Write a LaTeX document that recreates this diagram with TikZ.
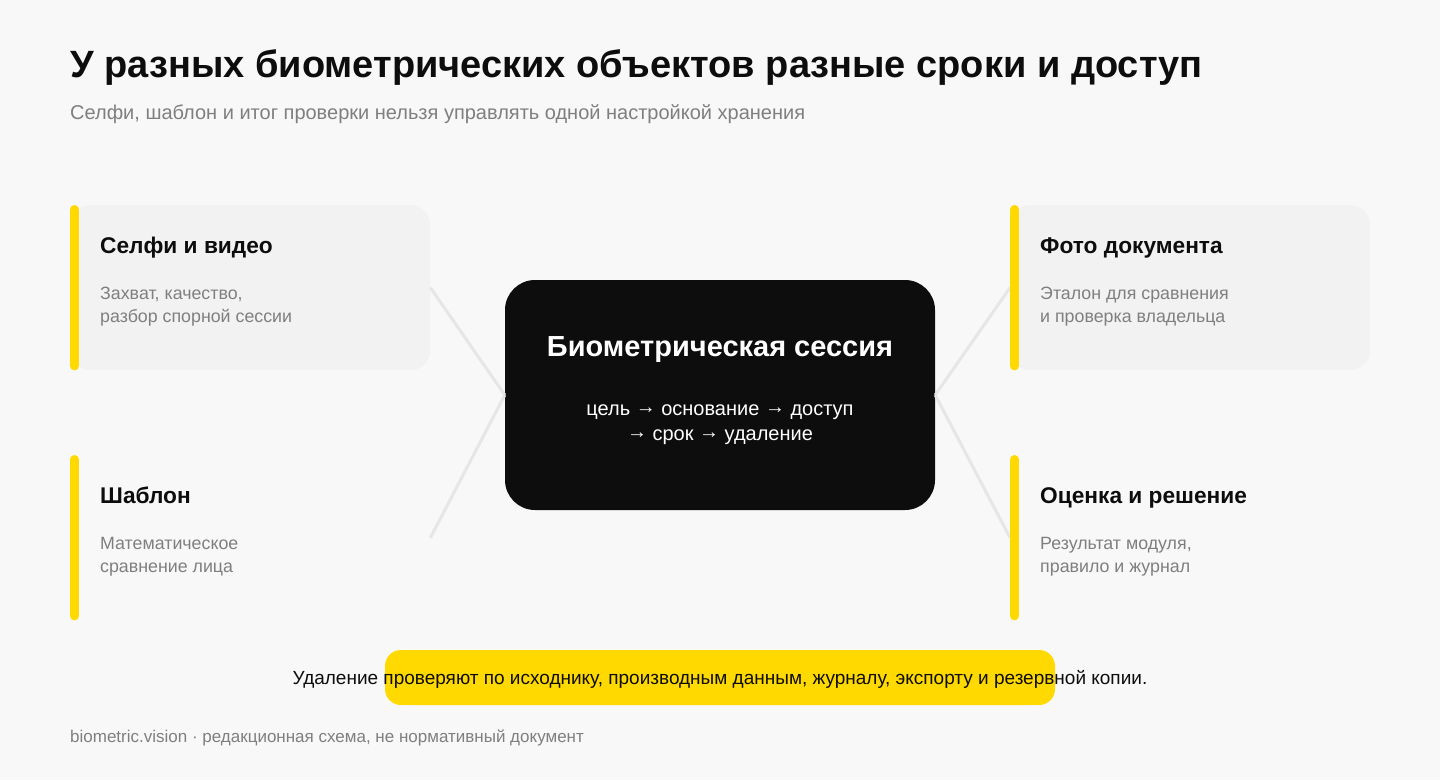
\documentclass[tikz,border=0pt]{standalone}
\usepackage{fontspec}
\setmainfont{Liberation Sans}
\usetikzlibrary{positioning}
\definecolor{pagebg}{HTML}{F8F8F8}
\definecolor{cardbg}{HTML}{F2F2F2}
\definecolor{accent}{HTML}{FFD900}
\definecolor{ink}{HTML}{0D0D0D}
\definecolor{muted}{HTML}{7F7F7F}
\definecolor{linkgray}{HTML}{E6E6E6}
\newcommand\flowto{\raisebox{2.5pt}{→}}

\begin{document}
\begin{tikzpicture}[x=1pt,y=-1pt,
    card/.style={anchor=north west,minimum width=360pt,minimum height=165pt,inner sep=0pt,rounded corners=20pt},
    filledcard/.style={card,fill=cardbg},
    session/.style={fill=ink,rounded corners=30pt,minimum width=430pt,minimum height=230pt,inner sep=0pt},
    note/.style={fill=accent,rounded corners=16pt,minimum width=670pt,minimum height=55pt,inner sep=0pt},
    bar/.style={accent,line width=9pt,line cap=round},
    link/.style={linkgray,line width=3pt},
    cardtitle/.style={anchor=base west,inner sep=0pt,text=ink,font=\fontsize{22.7pt}{27pt}\selectfont\bfseries},
    carddesc/.style={anchor=base west,inner sep=0pt,align=left,text=muted,font=\fontsize{17.8pt}{23.4pt}\selectfont},
  ]
  \useasboundingbox[fill=pagebg] (0,0) rectangle (1440,780);

  % heading
  \node[anchor=base west,inner sep=0pt,text=ink,font=\fontsize{38pt}{45pt}\selectfont\bfseries] (title) at (70,77)
    {У разных биометрических объектов разные сроки и доступ};
  \node[anchor=base west,inner sep=0pt,text=muted,font=\fontsize{20pt}{24pt}\selectfont] (subtitle) at (70,119.5)
    {Селфи, шаблон и итог проверки нельзя управлять одной настройкой хранения};

  % cards
  \node[filledcard] (selfie) at (70,205) {};
  \node[card] (template) at (70,455) {};
  \node[filledcard] (photo) at (1010,205) {};
  \node[card] (score) at (1010,455) {};
  \node[session] (session) at (720,395) {};

  % links to the centre
  \draw[link] (selfie.east) -- (session.west);
  \draw[link] (template.east) -- (session.west);
  \draw[link] (photo.west) -- (session.east);
  \draw[link] (score.west) -- (session.east);

  \foreach \c in {selfie,template,photo,score}
    \draw[bar] ([shift={(4.5pt,-4.5pt)}]\c.north west) -- ([shift={(4.5pt,4.5pt)}]\c.south west);

  % base of a two-line node sits on its last line
  \node[cardtitle] (selfietitle) at (100,253) {Селфи и видео};
  \node[carddesc] (selfiedesc) at (100,322.7) {Захват, качество,\\разбор спорной сессии};
  \node[cardtitle] (templatetitle) at (100,503) {Шаблон};
  \node[carddesc] (templatedesc) at (100,572.7) {Математическое\\сравнение лица};
  \node[cardtitle] (phototitle) at (1040,253) {Фото документа};
  \node[carddesc] (photodesc) at (1040,322.7) {Эталон для сравнения\\и проверка владельца};
  \node[cardtitle] (scoretitle) at (1040,503) {Оценка и решение};
  \node[carddesc] (scoredesc) at (1040,572.7) {Результат модуля,\\правило и журнал};

  % centre text
  \node[anchor=base,inner sep=0pt,text=white,font=\fontsize{29pt}{34pt}\selectfont\bfseries] (sessiontitle) at (720,356)
    {Биометрическая сессия};
  \node[anchor=base,inner sep=0pt,align=center,text=white,font=\fontsize{20pt}{25pt}\selectfont] (sessionflow) at (720,440.5)
    {цель \flowto{} основание \flowto{} доступ\\\flowto{} срок \flowto{} удаление};

  % bottom note
  \node[note] (note) at (720,677.5) {};
  \node[anchor=base,inner sep=0pt,text=ink,font=\fontsize{19pt}{23pt}\selectfont] (notetext) at (720,684.5)
    {Удаление проверяют по исходнику, производным данным, журналу, экспорту и резервной копии.};

  \node[anchor=base west,inner sep=0pt,text=muted,font=\fontsize{17pt}{20pt}\selectfont] (footer) at (70,742)
    {biometric.vision · редакционная схема, не нормативный документ};
\end{tikzpicture}
\end{document}
